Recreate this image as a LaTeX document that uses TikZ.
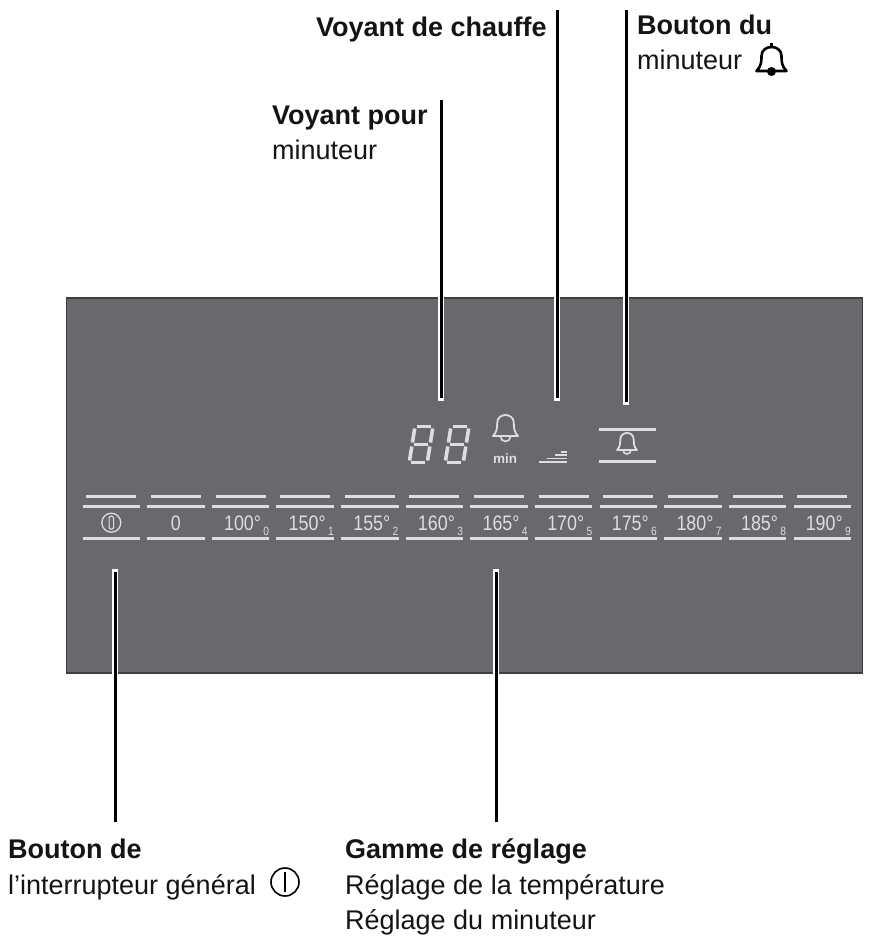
\documentclass[tikz,border=0pt]{standalone}
\usepackage{fontspec}
\setmainfont{Liberation Sans}
\usetikzlibrary{positioning}
\definecolor{panelgray}{RGB}{105,105,109}
\definecolor{panelline}{RGB}{62,62,64}
\definecolor{keywhite}{RGB}{222,222,224}
\definecolor{labelblack}{RGB}{20,20,20}
\tikzstyle{leader}=[draw=black,line width=3pt,preaction={draw=white,line width=5.5pt,line cap=rect}]
\tikzstyle{title}=[anchor=base west,inner sep=0pt,text=labelblack,font=\fontsize{27}{32}\selectfont\bfseries]
\tikzstyle{plain}=[anchor=base west,inner sep=0pt,text=labelblack,font=\fontsize{27}{32}\selectfont]
\tikzstyle{keyline}=[draw=keywhite,line width=3pt]
\tikzstyle{keytext}=[inner sep=0pt,text=keywhite,font=\fontsize{21}{22}\selectfont]
\tikzstyle{keysub}=[inner sep=0pt,anchor=base east,text=keywhite,font=\fontsize{12}{12}\selectfont]
\tikzset{
    bell/.pic={
        \draw[pic actions,line join=round] (-12,11) .. controls (-8,6) and (-8,1) .. (-8,-4)
            .. controls (-8,-10) and (-4,-13) .. (0,-13) .. controls (4,-13) and (8,-10) .. (8,-4)
            .. controls (8,1) and (8,6) .. (12,11) -- cycle;
    },
    digit/.pic={
        \foreach \xa/\ya/\xb/\yb in {2/0/16/0,18/2/18/16,18/20/18/34,2/36/16/36,0/20/0/34,0/2/0/16,2/18/16/18}
            \draw[keyline,line width=3.6pt] (\xa,\ya) -- (\xb,\yb);
    }
}
\begin{document}
\begin{tikzpicture}[x=1pt,y=-1pt]
    \path[use as bounding box] (0,0) rectangle (868,937);
    \node[draw=panelline,fill=panelgray,line width=1.6pt,minimum width=796pt,minimum height=375pt,inner sep=0pt] (panel) at (464.5,485.5) {};

    % labels
    \node[title] (chauffe) at (316,36) {Voyant de chauffe};
    \node[title] (bouton) at (637,34) {Bouton du};
    \node[plain] (boutonb) at (637,69) {minuteur};
    \node[title] (voyant) at (272,124) {Voyant pour};
    \node[plain] (voyantb) at (272,159) {minuteur};
    \node[title] (interr) at (8,858) {Bouton de};
    \node[plain] (interrb) at (8,894) {l’interrupteur général};
    \node[title] (gamme) at (345,858) {Gamme de réglage};
    \node[plain] (gammeb) at (345,894) {Réglage de la température};
    \node[plain] (gammec) at (345,929) {Réglage du minuteur};

    % symbols next to the labels
    \pic[draw=black,line width=2.6pt,xscale=1.25] (bellb) at (771.5,60) {bell};
    \draw[black,line width=2.4pt] (771.5,43) -- (771.5,47);
    \fill[black] (771.5,71.5) circle (4.5pt);
    \node[draw=black,circle,line width=1.6pt,minimum size=28pt,inner sep=0pt] (power) at (285,882) {};
    \draw[black,line width=2pt] (power.north) ++(0,5) -- ([yshift=5pt]power.south);

    % display
    \pic[xslant=0.16] (dga) at (415,426.5) {digit};
    \pic[xslant=0.16] (dgb) at (451,426.5) {digit};
    \pic[draw=keywhite,line width=1.8pt,xscale=1.04,yscale=0.875] (bellc) at (505.5,426.4) {bell};
    \draw[keywhite,line width=1.6pt] (500.5,436.5) arc[start angle=180,end angle=360,radius=5pt];
    \node[keytext,font=\fontsize{13.5}{14}\selectfont\bfseries] (minlabel) at (505,458.5) {min};
    \draw[keywhite,line width=1.4pt] (539,462) -- (567,462) (547,458.5) -- (567,458.5) (555,455) -- (567,455) (561,452) -- (567,452);
    \draw[keyline] (599,429) -- (656,429) (599,461) -- (656,461);
    \pic[draw=keywhite,line width=1.8pt,xscale=0.83,yscale=0.71] (bella) at (627,442.2) {bell};
    \draw[keywhite,line width=1.6pt] (623,450) arc[start angle=180,end angle=360,radius=4pt];

    % keys
    \foreach \i/\txt/\sub/\dx in {0/{}/{}/0,1/0/{}/0,2/100°/0/2,3/150°/1/2,4/155°/2/2,5/160°/3/2,6/165°/4/2,7/170°/5/2,8/175°/6/2,9/180°/7/2,10/185°/8/2,11/190°/9/2} {
        \pgfmathsetmacro{\kx}{111.3+64.63*\i}
        \draw[keyline] (\kx-25,496) -- (\kx+25,496);
        \draw[keyline] (\kx-28.7,506) -- (\kx+28.7,506);
        \draw[keyline] (\kx-28.7,538.5) -- (\kx+28.7,538.5);
        \node[keytext] (key\i) at (\kx+\dx,523) {\scalebox{0.85}[1]{\txt}};
        \node[keysub] (sub\i) at (\kx+28.7,535) {\scalebox{0.85}[1]{\sub}};
    }
    \node[draw=keywhite,circle,line width=1.3pt,minimum size=19pt,inner sep=0pt] (keypower) at (111.3,522.7) {};
    \node[draw=keywhite,rounded corners=2pt,line width=1.1pt,minimum width=4.5pt,minimum height=13pt,inner sep=0pt] (keypowerb) at (keypower) {};

    % leaders
    \coordinate (voyanttop) at (441,100);
    \coordinate (voyanttip) at (441,398);
    \coordinate (chauffetop) at (557,10);
    \coordinate (chauffetip) at (557,398);
    \coordinate (boutontop) at (626,10);
    \coordinate (boutontip) at (626,402);
    \coordinate (interrtop) at (115,572);
    \coordinate (interrend) at (115,822);
    \coordinate (gammetop) at (496,572);
    \coordinate (gammeend) at (496,822);
    \draw[leader] (voyanttop) -- (voyanttip);
    \draw[leader] (chauffetop) -- (chauffetip);
    \draw[leader] (boutontop) -- (boutontip);
    \draw[leader] (interrtop) -- (interrend);
    \draw[leader] (gammetop) -- (gammeend);
\end{tikzpicture}
\end{document}
